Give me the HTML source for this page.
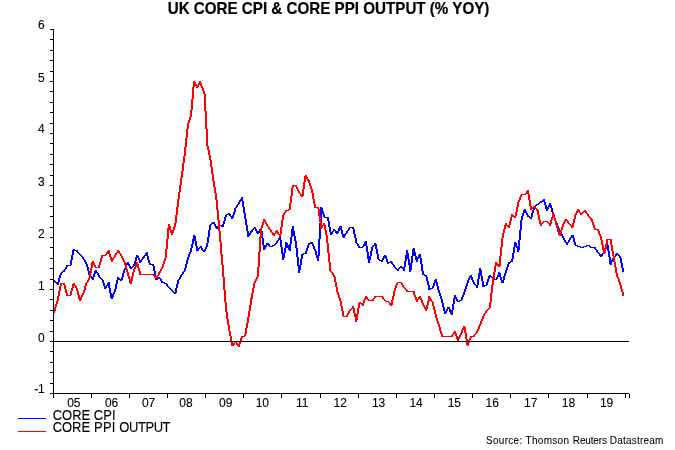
<!DOCTYPE html>
<html><head><meta charset="utf-8"><title>UK CORE CPI &amp; CORE PPI OUTPUT (% YOY)</title>
<style>
html,body{margin:0;padding:0;background:#fff;}
body{width:675px;height:450px;overflow:hidden;}
svg{display:block;font-family:"Liberation Sans",Arial,sans-serif;}
text{stroke:#000;stroke-width:0.1px;stroke-linejoin:round;}
.t{font-weight:bold;font-size:15px;stroke-width:0.2px;}
.a{font-size:12px;}
.l{font-size:13px;}
.s{font-size:10px;stroke-width:0.05px;}
</style></head><body>
<svg width="675" height="450" viewBox="0 0 675 450">
<rect width="675" height="450" fill="#fff"/>
<text class="t" transform="translate(167.70,14) scale(1.0120,1.078)">UK CORE CPI &amp; CORE PPI OUTPUT (% YOY)</text>
<g fill="#000" shape-rendering="crispEdges">
<rect x="53" y="29" width="1" height="369"/>
<rect x="50" y="393" width="579" height="1"/>
<rect x="50" y="29" width="3" height="1"/>
<rect x="50" y="39" width="3" height="1"/>
<rect x="50" y="50" width="3" height="1"/>
<rect x="50" y="60" width="3" height="1"/>
<rect x="50" y="71" width="3" height="1"/>
<rect x="50" y="81" width="3" height="1"/>
<rect x="50" y="91" width="3" height="1"/>
<rect x="50" y="102" width="3" height="1"/>
<rect x="50" y="112" width="3" height="1"/>
<rect x="50" y="123" width="3" height="1"/>
<rect x="50" y="133" width="3" height="1"/>
<rect x="50" y="143" width="3" height="1"/>
<rect x="50" y="154" width="3" height="1"/>
<rect x="50" y="164" width="3" height="1"/>
<rect x="50" y="175" width="3" height="1"/>
<rect x="50" y="185" width="3" height="1"/>
<rect x="50" y="195" width="3" height="1"/>
<rect x="50" y="206" width="3" height="1"/>
<rect x="50" y="216" width="3" height="1"/>
<rect x="50" y="227" width="3" height="1"/>
<rect x="50" y="237" width="3" height="1"/>
<rect x="50" y="247" width="3" height="1"/>
<rect x="50" y="258" width="3" height="1"/>
<rect x="50" y="268" width="3" height="1"/>
<rect x="50" y="279" width="3" height="1"/>
<rect x="50" y="289" width="3" height="1"/>
<rect x="50" y="299" width="3" height="1"/>
<rect x="50" y="310" width="3" height="1"/>
<rect x="50" y="320" width="3" height="1"/>
<rect x="50" y="331" width="3" height="1"/>
<rect x="50" y="341" width="3" height="1"/>
<rect x="50" y="351" width="3" height="1"/>
<rect x="50" y="362" width="3" height="1"/>
<rect x="50" y="372" width="3" height="1"/>
<rect x="50" y="383" width="3" height="1"/>
<rect x="50" y="393" width="3" height="1"/>
<rect x="53" y="394" width="1" height="4"/>
<rect x="91" y="394" width="1" height="4"/>
<rect x="129" y="394" width="1" height="4"/>
<rect x="167" y="394" width="1" height="4"/>
<rect x="205" y="394" width="1" height="4"/>
<rect x="243" y="394" width="1" height="4"/>
<rect x="281" y="394" width="1" height="4"/>
<rect x="320" y="394" width="1" height="4"/>
<rect x="358" y="394" width="1" height="4"/>
<rect x="396" y="394" width="1" height="4"/>
<rect x="434" y="394" width="1" height="4"/>
<rect x="472" y="394" width="1" height="4"/>
<rect x="510" y="394" width="1" height="4"/>
<rect x="548" y="394" width="1" height="4"/>
<rect x="587" y="394" width="1" height="4"/>
<rect x="625" y="394" width="1" height="4"/>
<rect x="629" y="394" width="1" height="4"/>
</g>
<g class="a" fill="#000">
<text x="44.8" y="29.0" text-anchor="end">6</text>
<text x="44.8" y="82.0" text-anchor="end">5</text>
<text x="44.8" y="133.0" text-anchor="end">4</text>
<text x="44.8" y="186.0" text-anchor="end">3</text>
<text x="44.8" y="238.0" text-anchor="end">2</text>
<text x="44.8" y="290.0" text-anchor="end">1</text>
<text x="44.8" y="342.0" text-anchor="end">0</text>
<text x="44.8" y="393.0" text-anchor="end">-1</text>
<text transform="translate(73.8,407.3) scale(1,1.08)" text-anchor="middle">05</text>
<text transform="translate(111.6,407.3) scale(1,1.08)" text-anchor="middle">06</text>
<text transform="translate(148.6,407.3) scale(1,1.08)" text-anchor="middle">07</text>
<text transform="translate(186.0,407.3) scale(1,1.08)" text-anchor="middle">08</text>
<text transform="translate(225.7,407.3) scale(1,1.08)" text-anchor="middle">09</text>
<text transform="translate(262.3,407.3) scale(1,1.08)" text-anchor="middle">10</text>
<text transform="translate(302.1,407.3) scale(1,1.08)" text-anchor="middle">11</text>
<text transform="translate(340.2,407.3) scale(1,1.08)" text-anchor="middle">12</text>
<text transform="translate(378.6,407.3) scale(1,1.08)" text-anchor="middle">13</text>
<text transform="translate(416.1,407.3) scale(1,1.08)" text-anchor="middle">14</text>
<text transform="translate(454.3,407.3) scale(1,1.08)" text-anchor="middle">15</text>
<text transform="translate(492.2,407.3) scale(1,1.08)" text-anchor="middle">16</text>
<text transform="translate(530.7,407.3) scale(1,1.08)" text-anchor="middle">17</text>
<text transform="translate(568.5,407.3) scale(1,1.08)" text-anchor="middle">18</text>
<text transform="translate(606.6,407.3) scale(1,1.08)" text-anchor="middle">19</text>
</g>
<g shape-rendering="crispEdges">
<path fill="#0000ff" d="M53 280h2v1h-2zM54 281h2v1h-2zM55 282h4v1h-4zM56 283h3v1h-3zM57 284h2v1h-2zM58 278h2v4h-2zM59 275h2v3h-2zM60 273h2v2h-2zM61 272h2v1h-2zM62 271h3v1h-3zM63 270h2v1h-2zM64 269h2v1h-2zM65 267h2v2h-2zM66 266h2v1h-2zM66 265h5v1h-5zM70 260h2v5h-2zM71 255h2v5h-2zM72 251h2v4h-2zM72 250h6v1h-6zM73 249h2v1h-2zM76 251h2v1h-2zM77 252h2v1h-2zM78 253h2v1h-2zM79 254h2v1h-2zM80 255h2v1h-2zM81 256h2v1h-2zM82 257h2v2h-2zM83 259h2v1h-2zM84 260h2v2h-2zM85 262h2v2h-2zM86 264h2v3h-2zM87 267h2v4h-2zM88 271h2v4h-2zM89 275h2v1h-2zM90 276h2v1h-2zM90 277h4v1h-4zM91 278h3v1h-3zM92 279h2v1h-2zM93 274h2v3h-2zM94 273h2v1h-2zM94 271h3v1h-3zM94 272h4v1h-4zM95 270h2v1h-2zM97 273h2v2h-2zM98 275h2v2h-2zM99 277h2v1h-2zM100 278h2v1h-2zM101 279h2v1h-2zM102 280h2v3h-2zM103 283h2v3h-2zM104 288h2v1h-2zM104 286h3v2h-3zM106 285h4v1h-4zM107 283h3v2h-3zM108 282h2v1h-2zM108 286h2v2h-2zM109 288h2v5h-2zM110 293h2v1h-2zM110 297h3v1h-3zM110 294h4v3h-4zM111 298h2v1h-2zM113 292h2v2h-2zM114 289h2v3h-2zM115 284h2v5h-2zM116 280h2v4h-2zM117 277h2v1h-2zM117 278h3v1h-3zM117 279h6v1h-6zM120 280h2v1h-2zM121 277h2v2h-2zM122 273h2v4h-2zM123 270h2v3h-2zM124 268h2v2h-2zM125 265h2v3h-2zM126 263h3v1h-3zM126 264h4v1h-4zM127 262h2v1h-2zM128 265h2v1h-2zM129 266h2v1h-2zM129 267h4v1h-4zM130 268h2v1h-2zM132 266h2v1h-2zM133 264h2v2h-2zM134 261h2v3h-2zM135 258h2v3h-2zM135 257h4v1h-4zM136 255h2v1h-2zM136 256h3v1h-3zM138 258h2v2h-2zM139 262h2v1h-2zM139 260h3v2h-3zM141 259h2v1h-2zM142 258h2v1h-2zM142 257h3v1h-3zM143 256h2v1h-2zM144 255h4v1h-4zM145 253h3v2h-3zM146 252h2v1h-2zM147 256h2v4h-2zM148 260h2v3h-2zM149 263h2v1h-2zM149 264h5v1h-5zM152 265h2v1h-2zM153 266h2v5h-2zM154 271h2v5h-2zM155 276h2v2h-2zM155 279h3v1h-3zM155 278h6v1h-6zM158 277h2v1h-2zM160 279h2v2h-2zM161 281h2v1h-2zM161 282h4v1h-4zM164 283h3v1h-3zM166 284h2v2h-2zM167 286h2v1h-2zM168 287h2v1h-2zM169 288h2v1h-2zM170 289h2v1h-2zM171 290h2v1h-2zM172 291h2v1h-2zM173 292h4v1h-4zM174 293h2v1h-2zM175 288h2v4h-2zM176 284h2v4h-2zM177 280h2v4h-2zM178 279h2v1h-2zM179 277h2v2h-2zM180 275h2v2h-2zM181 274h2v1h-2zM182 272h2v2h-2zM183 271h2v1h-2zM184 268h2v3h-2zM185 264h2v4h-2zM186 260h2v4h-2zM187 257h2v3h-2zM188 254h2v3h-2zM189 252h2v2h-2zM190 248h2v4h-2zM191 244h2v4h-2zM192 241h2v3h-2zM192 239h4v2h-4zM193 235h2v1h-2zM193 236h3v3h-3zM195 241h2v5h-2zM196 246h2v2h-2zM196 249h3v2h-3zM196 248h4v1h-4zM199 247h3v1h-3zM200 246h2v1h-2zM201 248h2v2h-2zM202 250h4v1h-4zM203 251h2v1h-2zM204 249h2v1h-2zM205 247h2v2h-2zM206 243h2v4h-2zM207 237h2v6h-2zM208 230h2v7h-2zM209 225h2v5h-2zM210 224h2v1h-2zM211 223h4v1h-4zM212 222h3v1h-3zM214 224h2v2h-2zM215 227h3v1h-3zM215 226h4v1h-4zM216 228h2v1h-2zM218 225h6v1h-6zM221 226h3v1h-3zM222 224h2v1h-2zM223 221h2v3h-2zM224 217h2v4h-2zM225 215h2v2h-2zM226 214h5v1h-5zM228 213h2v1h-2zM229 215h2v1h-2zM230 216h4v1h-4zM231 218h2v1h-2zM231 217h3v1h-3zM232 215h2v1h-2zM233 212h2v3h-2zM234 208h2v4h-2zM235 207h2v1h-2zM236 205h2v2h-2zM237 204h2v1h-2zM238 202h2v2h-2zM239 201h2v1h-2zM239 200h4v1h-4zM240 199h3v1h-3zM241 197h2v2h-2zM242 201h2v6h-2zM243 207h2v6h-2zM244 213h2v6h-2zM245 219h2v6h-2zM246 225h2v6h-2zM247 231h2v2h-2zM247 236h2v1h-2zM247 235h3v1h-3zM247 233h4v2h-4zM250 232h2v1h-2zM250 231h3v1h-3zM251 230h2v1h-2zM252 229h2v1h-2zM253 228h3v1h-3zM254 227h2v1h-2zM255 229h2v2h-2zM256 231h4v2h-4zM257 233h2v1h-2zM259 229h3v2h-3zM260 228h2v1h-2zM261 231h2v7h-2zM262 238h2v7h-2zM263 249h2v1h-2zM263 247h3v2h-3zM263 245h4v2h-4zM266 243h3v1h-3zM266 244h4v1h-4zM268 245h2v1h-2zM269 246h4v1h-4zM272 245h3v1h-3zM274 244h2v1h-2zM275 243h2v1h-2zM276 241h2v2h-2zM277 240h2v1h-2zM278 238h3v2h-3zM279 237h2v1h-2zM280 240h2v7h-2zM281 247h2v6h-2zM281 253h4v1h-4zM282 258h2v2h-2zM282 254h3v4h-3zM284 248h2v5h-2zM285 242h2v1h-2zM285 243h3v2h-3zM285 245h6v3h-6zM288 248h3v2h-3zM289 244h2v1h-2zM289 250h2v1h-2zM290 237h2v7h-2zM291 236h2v1h-2zM291 229h3v2h-3zM291 231h4v5h-4zM292 226h2v3h-2zM294 236h2v5h-2zM295 241h2v7h-2zM296 248h2v9h-2zM297 257h2v8h-2zM297 265h4v1h-4zM298 270h2v3h-2zM298 266h3v4h-3zM300 259h2v6h-2zM301 255h2v4h-2zM301 254h3v1h-3zM303 253h4v1h-4zM305 251h2v2h-2zM306 248h2v3h-2zM307 245h2v3h-2zM308 244h2v1h-2zM308 243h5v1h-5zM310 242h3v1h-3zM312 244h2v2h-2zM313 246h2v3h-2zM314 249h2v2h-2zM315 251h2v4h-2zM316 256h3v2h-3zM316 255h4v1h-4zM317 258h2v3h-2zM318 239h2v16h-2zM319 223h2v16h-2zM320 207h2v1h-2zM320 214h2v9h-2zM320 208h3v3h-3zM320 211h4v3h-4zM323 214h2v3h-2zM324 217h5v1h-5zM327 218h2v3h-2zM328 221h2v6h-2zM329 227h2v5h-2zM330 234h2v1h-2zM330 232h3v2h-3zM332 231h2v1h-2zM333 229h2v1h-2zM333 230h3v1h-3zM335 231h4v2h-4zM336 233h2v1h-2zM338 230h2v1h-2zM338 228h4v2h-4zM339 226h3v2h-3zM341 230h2v4h-2zM342 236h3v1h-3zM342 234h4v2h-4zM343 237h2v1h-2zM345 233h2v1h-2zM346 231h2v2h-2zM347 230h2v1h-2zM348 228h2v2h-2zM349 227h5v1h-5zM352 228h2v1h-2zM353 229h2v5h-2zM354 234h2v4h-2zM355 238h2v5h-2zM356 243h2v1h-2zM357 244h2v2h-2zM358 246h2v1h-2zM358 247h5v1h-5zM362 246h2v1h-2zM363 244h4v2h-4zM364 242h3v2h-3zM365 241h2v1h-2zM366 246h2v6h-2zM367 252h2v4h-2zM367 256h4v3h-4zM368 260h2v3h-2zM368 259h3v1h-3zM370 251h2v5h-2zM371 247h2v4h-2zM372 246h2v1h-2zM373 245h4v1h-4zM374 243h2v1h-2zM374 244h3v1h-3zM375 246h2v3h-2zM376 249h2v5h-2zM377 254h2v5h-2zM378 259h2v1h-2zM379 260h4v1h-4zM381 261h2v1h-2zM382 258h2v2h-2zM383 256h4v2h-4zM384 255h2v1h-2zM385 258h2v1h-2zM386 259h2v3h-2zM387 263h2v1h-2zM387 262h6v1h-6zM390 261h2v1h-2zM391 263h2v1h-2zM392 264h2v1h-2zM393 265h2v2h-2zM394 267h2v1h-2zM395 268h2v1h-2zM396 269h3v1h-3zM397 270h2v1h-2zM398 268h2v1h-2zM399 267h6v1h-6zM400 266h2v1h-2zM402 268h3v1h-3zM403 269h2v2h-2zM404 261h2v6h-2zM405 259h2v2h-2zM405 255h4v4h-4zM406 250h2v3h-2zM406 253h3v2h-3zM408 259h2v4h-2zM408 263h4v2h-4zM409 270h2v2h-2zM409 265h3v5h-3zM411 256h2v7h-2zM412 249h3v3h-3zM412 252h4v4h-4zM413 248h2v1h-2zM415 256h2v1h-2zM415 259h3v1h-3zM415 258h4v1h-4zM415 257h6v1h-6zM416 260h2v2h-2zM418 255h3v2h-3zM419 254h2v1h-2zM420 258h2v6h-2zM421 264h2v7h-2zM422 271h2v3h-2zM422 274h3v1h-3zM424 275h3v1h-3zM425 276h2v1h-2zM426 277h2v4h-2zM427 281h2v4h-2zM428 285h2v3h-2zM428 289h3v1h-3zM428 288h5v1h-5zM432 286h2v2h-2zM433 283h2v3h-2zM434 280h3v2h-3zM434 282h4v1h-4zM435 279h2v1h-2zM436 283h2v3h-2zM437 286h2v4h-2zM438 290h2v3h-2zM439 293h2v3h-2zM440 296h2v3h-2zM441 299h2v4h-2zM442 303h2v4h-2zM443 307h2v4h-2zM444 313h2v1h-2zM444 311h3v2h-3zM446 309h2v2h-2zM447 307h3v2h-3zM449 309h2v1h-2zM449 310h4v2h-4zM450 312h3v2h-3zM451 314h2v1h-2zM452 304h2v6h-2zM453 299h2v5h-2zM453 298h4v1h-4zM454 295h2v2h-2zM454 297h3v1h-3zM456 299h2v2h-2zM457 301h3v1h-3zM459 300h3v1h-3zM461 297h2v3h-2zM462 295h2v2h-2zM463 292h2v3h-2zM464 289h2v3h-2zM465 286h2v3h-2zM466 283h2v3h-2zM467 280h2v3h-2zM468 278h2v2h-2zM469 276h3v1h-3zM469 277h4v1h-4zM470 275h2v1h-2zM471 278h2v2h-2zM472 280h2v2h-2zM473 282h2v2h-2zM474 284h2v1h-2zM475 285h3v1h-3zM476 286h2v2h-2zM477 279h2v6h-2zM478 276h2v3h-2zM478 273h4v3h-4zM479 268h2v2h-2zM479 270h3v3h-3zM481 276h2v5h-2zM482 281h2v4h-2zM482 286h3v1h-3zM482 285h5v1h-5zM486 282h2v3h-2zM487 279h2v3h-2zM488 277h2v2h-2zM488 276h4v1h-4zM489 275h2v1h-2zM491 277h2v1h-2zM492 278h3v1h-3zM494 279h3v1h-3zM496 277h2v2h-2zM497 275h4v2h-4zM498 272h2v1h-2zM498 273h3v2h-3zM500 277h2v3h-2zM501 280h3v3h-3zM503 276h2v4h-2zM504 273h2v3h-2zM505 270h2v3h-2zM506 267h2v3h-2zM507 264h2v3h-2zM508 263h2v1h-2zM508 262h3v1h-3zM510 261h3v1h-3zM511 259h2v2h-2zM512 253h2v6h-2zM513 247h2v6h-2zM514 242h2v1h-2zM514 243h3v3h-3zM514 246h6v1h-6zM516 247h4v1h-4zM517 250h2v2h-2zM517 248h3v2h-3zM518 240h2v6h-2zM519 230h2v10h-2zM520 220h2v10h-2zM521 216h2v4h-2zM522 213h2v3h-2zM523 210h3v1h-3zM523 211h4v2h-4zM524 209h2v1h-2zM526 213h2v2h-2zM527 215h2v1h-2zM527 216h3v1h-3zM529 217h3v1h-3zM530 218h2v1h-2zM531 213h2v4h-2zM532 210h2v3h-2zM533 207h2v3h-2zM533 206h3v1h-3zM535 205h2v1h-2zM536 204h3v1h-3zM538 203h2v1h-2zM539 202h3v1h-3zM540 201h5v1h-5zM542 200h3v1h-3zM543 199h2v1h-2zM544 202h2v3h-2zM545 205h2v2h-2zM545 207h4v2h-4zM546 209h2v2h-2zM548 205h4v2h-4zM549 203h2v2h-2zM550 207h2v1h-2zM551 208h2v4h-2zM552 212h2v3h-2zM553 215h2v3h-2zM554 218h2v3h-2zM555 221h2v2h-2zM555 223h3v1h-3zM556 224h2v2h-2zM557 226h2v2h-2zM558 228h2v2h-2zM559 230h2v2h-2zM560 232h2v2h-2zM561 234h2v2h-2zM562 236h2v2h-2zM563 238h2v2h-2zM564 240h2v2h-2zM565 242h4v1h-4zM566 243h2v2h-2zM568 240h2v2h-2zM569 238h2v2h-2zM570 237h4v1h-4zM571 235h3v2h-3zM573 238h2v4h-2zM574 242h2v3h-2zM575 245h3v1h-3zM577 246h4v1h-4zM580 247h4v1h-4zM583 246h4v1h-4zM586 245h4v1h-4zM589 246h2v1h-2zM590 247h6v1h-6zM594 248h2v1h-2zM595 249h2v1h-2zM596 250h2v2h-2zM597 252h2v1h-2zM598 253h2v1h-2zM599 254h4v2h-4zM600 256h2v1h-2zM602 253h2v1h-2zM603 251h2v2h-2zM604 249h2v2h-2zM605 246h4v3h-4zM606 243h2v2h-2zM606 245h3v1h-3zM607 249h2v2h-2zM608 251h2v6h-2zM609 257h2v3h-2zM609 262h3v2h-3zM609 260h4v2h-4zM610 264h2v1h-2zM612 258h2v2h-2zM613 257h2v1h-2zM614 256h2v1h-2zM615 255h2v1h-2zM615 254h4v1h-4zM616 253h2v1h-2zM618 255h2v1h-2zM619 256h2v2h-2zM620 258h2v5h-2zM621 263h2v5h-2zM622 268h2v4h-2z"/>
<path fill="#ff0000" d="M53 311h2v2h-2zM54 307h2v4h-2zM55 304h2v3h-2zM56 301h2v3h-2zM57 296h2v5h-2zM58 291h2v5h-2zM59 286h2v5h-2zM60 284h2v2h-2zM60 283h5v1h-5zM63 284h2v1h-2zM64 285h2v4h-2zM65 289h2v4h-2zM66 293h2v2h-2zM66 295h5v1h-5zM70 291h2v4h-2zM71 288h2v3h-2zM72 286h2v2h-2zM72 284h3v1h-3zM72 285h4v1h-4zM73 283h2v1h-2zM75 286h2v2h-2zM76 288h2v3h-2zM77 291h2v4h-2zM78 295h2v2h-2zM78 297h4v2h-4zM79 300h2v1h-2zM79 299h3v1h-3zM81 295h2v2h-2zM82 293h2v2h-2zM83 290h2v3h-2zM84 286h2v4h-2zM85 283h2v3h-2zM86 282h2v1h-2zM87 280h2v2h-2zM88 278h2v2h-2zM89 273h2v5h-2zM90 268h2v5h-2zM91 265h2v3h-2zM91 262h3v1h-3zM91 263h4v2h-4zM92 261h2v1h-2zM94 265h2v2h-2zM95 267h5v1h-5zM98 265h2v2h-2zM99 262h2v3h-2zM100 258h2v4h-2zM101 256h2v2h-2zM101 255h5v1h-5zM105 254h2v1h-2zM106 252h4v2h-4zM107 251h3v1h-3zM108 250h2v1h-2zM109 254h2v3h-2zM110 257h2v1h-2zM110 258h4v2h-4zM111 260h2v2h-2zM113 257h2v1h-2zM114 255h2v2h-2zM115 253h2v2h-2zM116 252h4v1h-4zM117 250h2v1h-2zM117 251h3v1h-3zM119 253h2v1h-2zM120 254h2v2h-2zM121 256h2v2h-2zM122 258h2v2h-2zM123 260h2v2h-2zM124 262h2v3h-2zM125 265h2v4h-2zM126 269h2v3h-2zM127 272h2v4h-2zM128 276h2v3h-2zM129 281h3v2h-3zM129 279h4v2h-4zM130 283h2v1h-2zM131 276h2v3h-2zM132 272h2v4h-2zM133 269h2v3h-2zM134 267h2v2h-2zM135 264h4v3h-4zM136 262h2v2h-2zM137 267h2v1h-2zM138 268h2v3h-2zM139 271h2v3h-2zM139 274h15v1h-15zM153 275h2v1h-2zM154 276h4v2h-4zM155 278h2v1h-2zM157 275h2v1h-2zM158 273h2v2h-2zM158 272h3v1h-3zM159 271h2v1h-2zM160 269h2v2h-2zM161 267h2v2h-2zM162 264h2v3h-2zM163 261h2v3h-2zM164 258h2v3h-2zM165 249h2v9h-2zM166 239h2v10h-2zM167 230h2v9h-2zM167 228h4v2h-4zM168 224h2v2h-2zM168 226h3v2h-3zM170 230h4v3h-4zM171 233h2v2h-2zM173 227h2v3h-2zM174 223h2v4h-2zM175 215h2v8h-2zM176 207h2v8h-2zM177 199h2v8h-2zM178 192h2v7h-2zM179 185h2v7h-2zM180 178h2v7h-2zM181 171h2v7h-2zM182 163h2v8h-2zM183 156h2v7h-2zM184 147h2v9h-2zM185 138h2v9h-2zM186 129h2v9h-2zM187 123h2v6h-2zM188 120h2v3h-2zM189 117h2v3h-2zM190 110h2v7h-2zM191 99h2v11h-2zM192 87h2v12h-2zM193 81h2v1h-2zM193 86h2v1h-2zM193 82h3v2h-3zM193 84h4v1h-4zM193 85h6v1h-6zM196 87h2v1h-2zM196 86h3v1h-3zM198 83h4v2h-4zM199 81h2v2h-2zM200 85h2v1h-2zM201 86h2v2h-2zM202 88h2v3h-2zM203 91h2v3h-2zM204 94h2v17h-2zM205 111h2v18h-2zM206 129h2v17h-2zM207 146h2v4h-2zM208 150h2v5h-2zM209 155h2v5h-2zM210 160h2v7h-2zM211 167h2v7h-2zM212 174h2v7h-2zM213 181h2v6h-2zM214 187h2v6h-2zM215 193h2v7h-2zM216 200h2v10h-2zM217 210h2v10h-2zM218 220h2v11h-2zM219 231h2v11h-2zM220 242h2v12h-2zM221 254h2v11h-2zM222 265h2v12h-2zM223 277h2v13h-2zM224 290h2v12h-2zM225 302h2v10h-2zM226 312h2v7h-2zM227 319h2v6h-2zM228 325h2v6h-2zM229 331h2v5h-2zM230 336h2v5h-2zM231 341h2v2h-2zM231 345h3v1h-3zM231 343h4v2h-4zM234 342h3v1h-3zM236 343h2v1h-2zM236 344h4v1h-4zM237 345h3v1h-3zM238 346h2v1h-2zM239 341h2v3h-2zM240 338h2v3h-2zM241 337h2v1h-2zM241 336h4v1h-4zM244 334h2v2h-2zM245 328h2v6h-2zM246 323h2v5h-2zM247 317h2v6h-2zM248 311h2v6h-2zM249 305h2v6h-2zM250 299h2v6h-2zM250 298h3v1h-3zM251 293h2v5h-2zM252 288h2v5h-2zM253 283h2v5h-2zM254 281h2v2h-2zM255 279h2v2h-2zM256 277h2v2h-2zM257 267h2v10h-2zM258 252h2v15h-2zM259 237h2v15h-2zM260 228h2v9h-2zM261 225h2v3h-2zM262 222h2v3h-2zM263 219h2v1h-2zM263 220h3v2h-3zM265 222h2v2h-2zM266 224h2v2h-2zM267 226h2v1h-2zM268 227h2v2h-2zM269 229h2v1h-2zM270 230h2v2h-2zM271 232h2v1h-2zM272 234h3v1h-3zM272 233h4v1h-4zM273 235h2v1h-2zM275 231h3v1h-3zM275 232h4v1h-4zM276 230h2v1h-2zM277 233h2v1h-2zM278 234h3v1h-3zM279 235h2v2h-2zM280 227h2v7h-2zM281 220h2v7h-2zM282 215h2v5h-2zM283 213h2v2h-2zM284 212h2v1h-2zM285 211h2v1h-2zM285 210h4v1h-4zM288 209h3v1h-3zM289 203h2v6h-2zM290 196h2v7h-2zM291 188h2v8h-2zM292 186h2v2h-2zM292 185h5v1h-5zM295 186h2v1h-2zM296 187h2v2h-2zM297 189h2v2h-2zM298 191h2v2h-2zM299 193h2v1h-2zM300 194h4v2h-4zM301 196h2v1h-2zM302 189h2v5h-2zM303 182h2v7h-2zM304 179h2v3h-2zM304 176h3v1h-3zM304 177h4v2h-4zM305 175h2v1h-2zM307 179h2v1h-2zM307 180h3v1h-3zM308 181h2v2h-2zM309 183h2v3h-2zM310 186h2v3h-2zM311 189h2v4h-2zM312 193h2v6h-2zM313 199h2v5h-2zM314 204h2v3h-2zM314 207h5v1h-5zM317 208h2v1h-2zM318 209h2v7h-2zM319 216h2v6h-2zM320 222h2v3h-2zM320 228h2v1h-2zM320 226h3v2h-3zM320 225h6v1h-6zM323 223h2v2h-2zM324 226h2v4h-2zM325 230h2v5h-2zM326 235h2v8h-2zM327 243h2v10h-2zM328 253h2v9h-2zM329 262h2v9h-2zM330 271h2v1h-2zM331 272h2v1h-2zM332 273h2v2h-2zM333 275h2v2h-2zM334 277h2v5h-2zM335 282h2v5h-2zM336 287h2v5h-2zM337 292h2v3h-2zM338 295h2v3h-2zM339 298h2v3h-2zM340 301h2v5h-2zM341 306h2v5h-2zM342 311h2v5h-2zM343 316h5v1h-5zM346 315h2v1h-2zM347 313h2v2h-2zM348 311h2v2h-2zM349 310h2v1h-2zM350 309h2v1h-2zM351 308h4v1h-4zM352 306h2v2h-2zM353 309h2v4h-2zM354 313h2v1h-2zM354 314h4v3h-4zM355 320h2v2h-2zM355 317h3v3h-3zM357 308h2v6h-2zM358 304h2v4h-2zM358 303h6v1h-6zM359 302h2v1h-2zM361 304h3v1h-3zM362 305h2v1h-2zM363 300h2v3h-2zM364 299h2v1h-2zM364 298h4v1h-4zM365 296h2v1h-2zM365 297h3v1h-3zM367 299h2v1h-2zM368 300h6v1h-6zM372 299h2v1h-2zM373 298h2v1h-2zM374 297h2v1h-2zM374 296h9v1h-9zM382 297h2v2h-2zM383 299h2v1h-2zM384 300h2v1h-2zM385 301h4v1h-4zM388 302h2v1h-2zM389 303h4v2h-4zM390 305h2v1h-2zM391 300h2v3h-2zM392 296h2v4h-2zM393 291h2v5h-2zM394 288h2v3h-2zM395 285h2v3h-2zM396 283h2v2h-2zM397 282h5v1h-5zM401 283h2v2h-2zM402 285h2v2h-2zM403 287h2v1h-2zM404 288h2v1h-2zM405 289h2v1h-2zM406 290h2v1h-2zM406 291h9v1h-9zM413 292h2v3h-2zM414 295h2v2h-2zM415 297h2v2h-2zM415 299h4v1h-4zM416 300h2v2h-2zM418 297h3v1h-3zM418 298h4v1h-4zM419 296h2v1h-2zM420 299h2v1h-2zM421 300h2v3h-2zM422 303h2v2h-2zM423 305h2v2h-2zM424 307h4v2h-4zM425 309h2v2h-2zM426 305h2v2h-2zM427 301h2v4h-2zM428 296h2v1h-2zM428 297h3v2h-3zM428 299h4v2h-4zM431 301h2v1h-2zM432 302h2v4h-2zM433 306h2v4h-2zM434 310h2v4h-2zM435 314h2v4h-2zM436 318h2v3h-2zM437 321h2v3h-2zM438 324h2v3h-2zM439 327h2v4h-2zM440 331h2v3h-2zM441 334h2v2h-2zM441 336h12v1h-12zM451 335h2v1h-2zM452 334h2v1h-2zM453 332h3v1h-3zM453 333h4v1h-4zM454 331h2v1h-2zM455 334h2v2h-2zM456 336h2v1h-2zM456 337h4v2h-4zM457 339h2v2h-2zM459 335h2v2h-2zM460 333h2v2h-2zM461 330h2v3h-2zM462 328h4v2h-4zM463 326h2v1h-2zM463 327h3v1h-3zM464 330h2v3h-2zM465 333h2v6h-2zM466 339h2v1h-2zM466 343h3v2h-3zM466 340h4v3h-4zM467 345h2v1h-2zM469 338h2v2h-2zM470 337h2v1h-2zM470 336h5v1h-5zM473 335h2v1h-2zM474 334h2v1h-2zM475 333h2v1h-2zM476 331h2v2h-2zM477 329h2v2h-2zM478 326h2v3h-2zM479 324h2v2h-2zM480 321h2v3h-2zM481 319h2v2h-2zM482 316h2v3h-2zM483 314h2v2h-2zM484 313h2v1h-2zM485 311h2v2h-2zM486 310h2v1h-2zM487 309h2v1h-2zM488 308h2v1h-2zM489 302h2v6h-2zM490 293h2v9h-2zM491 285h2v8h-2zM492 278h2v7h-2zM493 272h2v6h-2zM494 266h2v6h-2zM495 262h2v1h-2zM495 263h3v1h-3zM495 264h6v2h-6zM498 266h2v1h-2zM499 256h2v8h-2zM500 247h2v9h-2zM501 238h2v9h-2zM502 233h2v5h-2zM503 229h2v4h-2zM504 226h2v3h-2zM504 225h6v1h-6zM505 223h2v2h-2zM507 226h3v1h-3zM508 227h2v1h-2zM509 221h2v4h-2zM510 217h2v4h-2zM511 214h2v1h-2zM511 215h3v1h-3zM511 216h5v1h-5zM514 217h2v1h-2zM515 212h2v4h-2zM516 207h2v5h-2zM517 202h2v5h-2zM518 200h2v2h-2zM519 197h2v3h-2zM520 195h2v2h-2zM521 194h5v1h-5zM525 193h4v1h-4zM526 191h3v2h-3zM527 190h2v1h-2zM528 194h2v6h-2zM529 200h2v6h-2zM530 206h2v1h-2zM530 209h2v1h-2zM530 208h3v1h-3zM530 207h6v1h-6zM533 206h2v1h-2zM535 208h2v1h-2zM536 209h2v1h-2zM536 210h3v1h-3zM537 211h2v4h-2zM538 215h2v5h-2zM539 220h2v3h-2zM539 223h4v1h-4zM540 224h2v2h-2zM542 222h2v1h-2zM543 221h5v1h-5zM547 222h2v1h-2zM548 223h4v1h-4zM549 224h2v2h-2zM550 220h2v3h-2zM551 218h2v2h-2zM551 217h4v1h-4zM552 213h2v1h-2zM552 214h3v3h-3zM554 218h2v3h-2zM555 221h2v4h-2zM556 225h2v3h-2zM557 228h2v4h-2zM558 233h3v2h-3zM558 232h4v1h-4zM559 235h2v1h-2zM560 230h2v2h-2zM561 227h2v3h-2zM562 224h2v3h-2zM563 222h2v2h-2zM564 221h2v1h-2zM564 220h4v1h-4zM565 219h2v1h-2zM567 221h2v2h-2zM568 223h2v1h-2zM569 224h2v1h-2zM570 225h4v1h-4zM571 227h2v1h-2zM571 226h3v1h-3zM572 223h2v2h-2zM573 219h2v4h-2zM574 215h2v4h-2zM575 213h2v2h-2zM576 212h2v1h-2zM576 211h4v1h-4zM577 209h2v1h-2zM577 210h3v1h-3zM579 212h2v1h-2zM580 214h2v1h-2zM580 213h3v1h-3zM582 212h2v1h-2zM583 211h4v1h-4zM584 210h2v1h-2zM585 212h2v1h-2zM586 213h2v1h-2zM587 214h2v2h-2zM588 216h2v1h-2zM589 217h2v1h-2zM590 218h2v1h-2zM590 219h3v1h-3zM591 220h2v2h-2zM592 222h2v3h-2zM593 225h2v3h-2zM594 228h2v1h-2zM594 229h5v1h-5zM597 230h2v1h-2zM598 231h2v3h-2zM599 234h2v2h-2zM600 236h2v4h-2zM601 240h2v5h-2zM602 245h2v3h-2zM602 248h4v2h-4zM603 253h2v1h-2zM603 250h3v3h-3zM605 244h2v4h-2zM606 240h2v4h-2zM606 239h6v1h-6zM610 240h2v5h-2zM611 245h2v6h-2zM612 251h2v5h-2zM613 256h2v6h-2zM614 262h2v5h-2zM615 267h2v6h-2zM616 273h2v4h-2zM617 277h2v2h-2zM618 279h2v3h-2zM619 282h2v3h-2zM620 285h2v4h-2zM621 289h2v3h-2zM622 292h2v4h-2z"/>
<rect x="53" y="341" width="576" height="1" fill="#000"/>
<rect x="53" y="29" width="1" height="369" fill="#000"/>
</g>
<g shape-rendering="crispEdges">
<rect x="18" y="418" width="28" height="1" fill="#0000ff"/>
<rect x="18" y="431" width="28" height="1" fill="#ff0000"/>
</g>
<g class="l" fill="#000">
<text transform="translate(52.70,419.9) scale(1.0000,1.13)">CORE CPI</text>
<text transform="translate(0,432) scale(1,1.13)"><tspan x="52.70" style="letter-spacing:-0.030px">CORE </tspan><tspan x="94.05" style="letter-spacing:0.200px">PPI </tspan><tspan x="119.30" style="letter-spacing:-0.430px">OUTPUT</tspan></text>
</g>
<text class="s" y="444" fill="#000"><tspan x="486.00" style="letter-spacing:0.290px">Source: </tspan><tspan x="525.60" style="letter-spacing:0.287px">Thomson </tspan><tspan x="572.85" style="letter-spacing:-0.150px">Reuters </tspan><tspan x="609.75" style="letter-spacing:0.220px">Datastream</tspan></text>
</svg>
</body></html>
